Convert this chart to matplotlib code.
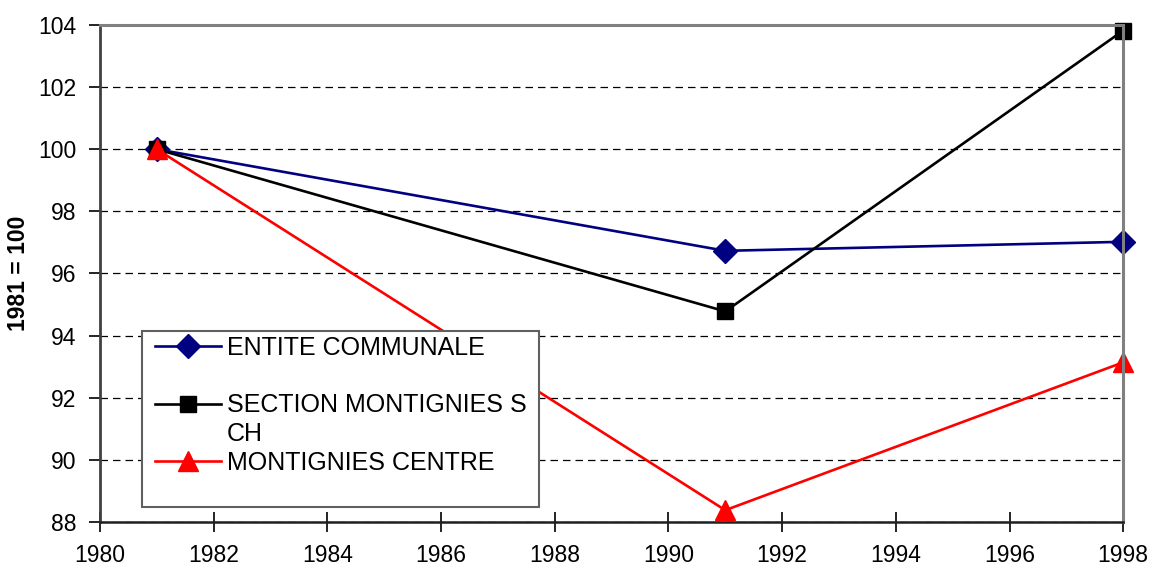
import matplotlib.pyplot as plt
from matplotlib.patches import Rectangle

years = [1981, 1991, 1998]
entite = [100.0, 96.73, 97.02]
section = [100.0, 94.78, 103.82]
centre = [100.0, 88.38, 93.14]

labels = ["ENTITE COMMUNALE", "SECTION MONTIGNIES S", "MONTIGNIES CENTRE"]
label_suite = "CH"

plt.rcParams['font.family'] = ['Liberation Sans', 'DejaVu Sans']

fig = plt.figure(figsize=(11.52, 5.68), dpi=100)
ax = fig.add_axes([0.0868, 0.081, 0.8882, 0.875])

ax.plot(years, entite, color='#000080', marker='D', markersize=12.5, lw=1.9,
        label=labels[0], clip_on=False)
ax.plot(years, section, color='black', marker='s', markersize=12, lw=1.9,
        label=labels[1], clip_on=False)
ax.plot(years, centre, color='#ff0000', marker='^', markersize=15, lw=1.9,
        label=labels[2], clip_on=False)

ax.set_xlim(1980, 1998)
ax.set_ylim(88, 104)
ax.set_xticks(range(1980, 1999, 2))
ax.set_yticks(range(88, 105, 2))
ax.tick_params(labelsize=16.5)
ax.tick_params(axis='x', direction='inout', length=15, width=1.2, pad=8)
ax.tick_params(axis='y', direction='out', length=8, width=1.2, pad=9)
ax.grid(axis='y', color='black', ls=(0, (6, 4)), lw=0.9)
ax.set_ylabel("1981 = 100", fontsize=16.5, fontweight='bold', labelpad=6)

for s in ['top', 'right']:
    ax.spines[s].set_color('#808080')
    ax.spines[s].set_linewidth(2.2)
ax.spines['left'].set_color('#404040')
ax.spines['left'].set_linewidth(2)
ax.spines['bottom'].set_color('#202020')
ax.spines['bottom'].set_linewidth(1.8)

# cadre de la legende (style Excel)
cadre = Rectangle((142 / 1152, 1 - 507 / 568), 397 / 1152, 176 / 568,
                  transform=fig.transFigure, facecolor='white',
                  edgecolor='#606060', lw=1.5, zorder=4, clip_on=False)
ax.add_patch(cadre)

leg = ax.legend(loc='upper left', bbox_to_anchor=(155 / 1152, 1 - 336 / 568),
                bbox_transform=fig.transFigure, fontsize=18, frameon=False,
                handlelength=2.64, handletextpad=0.24, labelspacing=1.33,
                borderpad=0, borderaxespad=0)
leg.set_zorder(5)
fig.text(227 / 1152, 1 - 434 / 568, label_suite, fontsize=18, va='center',
         ha='left', zorder=6)

fig.savefig('out.png', dpi=100)
